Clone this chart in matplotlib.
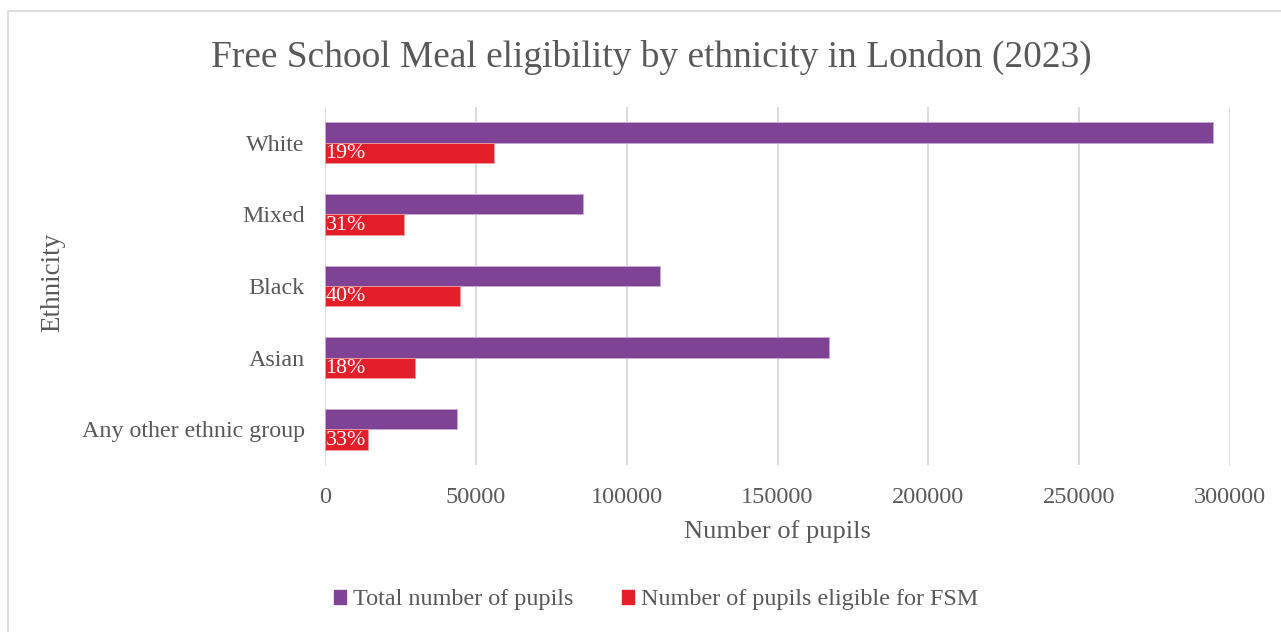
import matplotlib
matplotlib.use("Agg")
import matplotlib.pyplot as plt
from matplotlib.patches import Rectangle, Patch

# Data: pupils in London schools, 2023
ethnicities = ["White", "Mixed", "Black", "Asian", "Any other ethnic group"]
total_pupils = [294300, 85600, 110900, 167200, 43600]
fsm_pupils = [56100, 26200, 44700, 29900, 14400]
x_ticks = [0, 50000, 100000, 150000, 200000, 250000, 300000]

PURPLE = "#7E4395"
RED = "#E41F2A"
TEXT = "#595959"
GRID = "#D9D9D9"
FONT = "Liberation Serif"

plt.rcParams["font.family"] = [FONT, "DejaVu Serif"]

fig = plt.figure(figsize=(12.81, 6.32), dpi=100)
W, H = 1281, 632

# Chart-area border
fig.patches.append(Rectangle((8 / W, -0.1), 1.2, 1 - 11 / H + 0.1,
                             transform=fig.transFigure, fill=False,
                             edgecolor=GRID, linewidth=1.2, zorder=0))

ax = fig.add_axes([325 / W, 1 - 465 / H, 905 / W, 358 / H])

bar_h = 0.286
pos = list(range(len(ethnicities)))
ax.barh([p - bar_h / 2 for p in pos], total_pupils, height=bar_h,
        color=PURPLE, edgecolor="#C9A9D6", linewidth=0.6, zorder=3,
        label="Total number of pupils")
ax.barh([p + bar_h / 2 for p in pos], fsm_pupils, height=bar_h,
        color=RED, edgecolor="#F19CA0", linewidth=0.6, zorder=3,
        label="Number of pupils eligible for FSM")

# Share of pupils eligible, written inside each red bar
for p, tot, fsm in zip(pos, total_pupils, fsm_pupils):
    ax.text(150, p + bar_h / 2 + 0.01, f"{round(100 * fsm / tot)}%",
            color="white", fontsize=15.8, ha="left", va="center", zorder=4)

ax.set_xlim(0, 300000)
ax.set_ylim(len(ethnicities) - 0.5, -0.5)
ax.set_xticks(x_ticks)
ax.set_xticklabels([str(t) for t in x_ticks])
ax.set_yticks(pos)
ax.set_yticklabels(ethnicities)
ax.tick_params(axis="y", length=0, labelsize=17.3, labelcolor=TEXT, pad=14.5)
ax.tick_params(axis="x", length=0, labelsize=17.5, labelcolor=TEXT, pad=15.5)
ax.grid(axis="x", color=GRID, linewidth=1.3, zorder=0)
for s in ax.spines.values():
    s.set_visible(False)

ax.set_xlabel("Number of pupils", fontsize=19, color=TEXT, labelpad=9)
fig.text(53 / W, 1 - 282 / H, "Ethnicity", rotation=90, fontsize=19.5,
         color=TEXT, ha="center", va="center")

fig.text(651 / W, 1 - 57 / H,
         "Free School Meal eligibility by ethnicity in London (2023)",
         fontsize=26.9, color=TEXT, ha="center", va="center")

handles = [Patch(color=PURPLE), Patch(color=RED)]
fig.legend(handles, ["Total number of pupils", "Number of pupils eligible for FSM"],
           loc="center", bbox_to_anchor=(656 / W, 1 - 600 / H), ncol=2,
           frameon=False, fontsize=17.4, labelcolor=TEXT,
           handlelength=0.5, handleheight=0.5, handletextpad=0.3,
           columnspacing=2.0)

fig.savefig("out.png", dpi=100, facecolor="white")
